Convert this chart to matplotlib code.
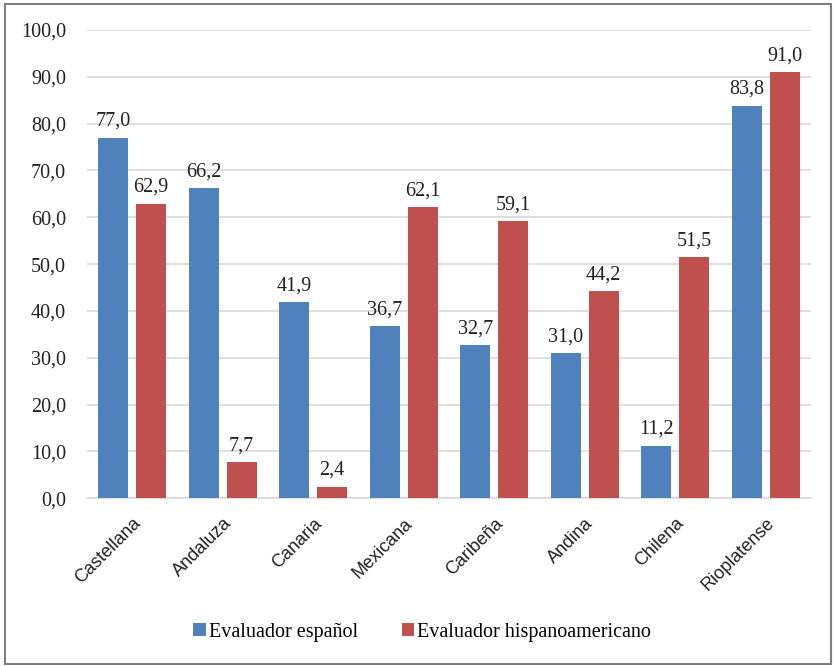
import numpy as np
import matplotlib.pyplot as plt
from matplotlib.patches import Rectangle

categories = ["Castellana", "Andaluza", "Canaria", "Mexicana", "Caribeña",
              "Andina", "Chilena", "Rioplatense"]
espanol = [77.0, 66.2, 41.9, 36.7, 32.7, 31.0, 11.2, 83.8]
hispano = [62.9, 7.7, 2.4, 62.1, 59.1, 44.2, 51.5, 91.0]
series_names = ["Evaluador español", "Evaluador hispanoamericano"]

BLUE = "#4F81BD"
RED = "#C0504D"
SERIF = "Liberation Serif"
SANS = "Liberation Sans"


def fmt(v):
    return "{0:.1f}".format(v).replace(".", ",")


fig = plt.figure(figsize=(8.36, 6.66), dpi=100)
ax = fig.add_axes([0.104, 0.252, 0.866, 0.703])

x = np.arange(len(categories))
w = 0.33
off = 0.21
b1 = ax.bar(x - off, espanol, w, color=BLUE, label=series_names[0], zorder=3)
b2 = ax.bar(x + off, hispano, w, color=RED, label=series_names[1], zorder=3)

for bars, vals in ((b1, espanol), (b2, hispano)):
    for b, v in zip(bars, vals):
        ax.annotate(fmt(v), (b.get_x() + b.get_width() / 2, v),
                    xytext=(0, 5), textcoords="offset points",
                    ha="center", va="bottom", family=SERIF, fontsize=14.5,
                    color="#222222")

ax.set_xlim(-0.5, len(categories) - 0.5)
ax.set_ylim(0, 100)
ax.set_yticks(np.arange(0, 101, 10))
ax.set_yticklabels([fmt(t) for t in np.arange(0, 101, 10)],
                   family=SERIF, fontsize=14.5, color="#222222")
ax.set_xticks(x)
ax.set_xticklabels(categories, rotation=45, ha="right", rotation_mode="anchor",
                   family=SANS, fontsize=13, color="#222222")
ax.tick_params(axis="both", length=0)
ax.tick_params(axis="y", pad=15)
ax.tick_params(axis="x", pad=12)
ax.yaxis.grid(True, color="#D9D9D9", linewidth=1.2, zorder=0)
for s in ("top", "right", "left"):
    ax.spines[s].set_visible(False)
ax.spines["bottom"].set_color("#D9D9D9")
ax.spines["bottom"].set_linewidth(1.2)

fig.legend(handles=[b1, b2], loc="center", bbox_to_anchor=(0.505, 0.051),
           ncol=2, frameon=False, prop={"family": SERIF, "size": 14.5},
           handlelength=0.6, handleheight=0.6, handletextpad=0.15,
           columnspacing=2.2)

fig.patches.append(Rectangle((0.006, 0.003), 0.988, 0.991, transform=fig.transFigure,
                             fill=False, edgecolor="#7F7F7F", linewidth=1.5))

fig.savefig("out.png", dpi=100)
